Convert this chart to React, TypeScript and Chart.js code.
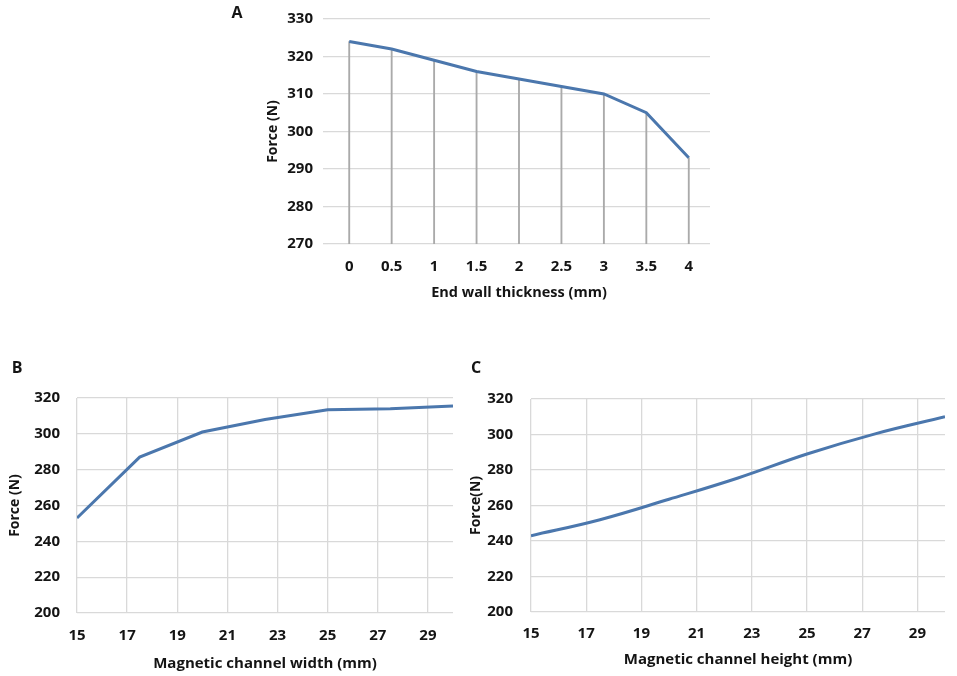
import { useEffect, useRef } from "react";
import { Chart, registerables } from "chart.js";

Chart.register(...registerables);

// Panel A – end wall thickness
const thicknessLabels = ["0", "0.5", "1", "1.5", "2", "2.5", "3", "3.5", "4"];
const forceByThickness = [324, 322, 319, 316, 314, 312, 310, 305, 293];

// Panel B – magnetic channel width
const channelWidths = [15, 17.5, 20, 22.5, 25, 27.5, 30];
const forceByWidth = [253, 287, 301, 308, 313.5, 314, 315.5];

// Panel C – magnetic channel height
const channelHeights = [15, 17.5, 20, 22.5, 25, 27.5, 30];
const forceByHeight = [243, 252, 263.5, 275.5, 289, 300.5, 310];

const channelTicks = [15, 17, 19, 21, 23, 25, 27, 29];

const FONT = "'Open Sans'";
const TEXT = "#141414";
const LINE = "#4b77ad";
const GRID = "#d9d9d9";

const tickFont = { family: FONT, size: 15, weight: "bold" as const };
const yTitleFont = { family: FONT, size: 14, weight: "bold" as const };
const xTitleFontA = { family: FONT, size: 14.5, weight: "bold" as const };
const xTitleFont = { family: FONT, size: 15, weight: "bold" as const };

type Box = { left: number; top: number; width: number; height: number };

function ChartBox({ box, build }: { box: Box; build: (c: HTMLCanvasElement) => Chart }) {
	const canvasRef = useRef<HTMLCanvasElement>(null);
	const chartRef = useRef<Chart | null>(null);

	useEffect(() => {
		if (canvasRef.current) {
			if (chartRef.current) chartRef.current.destroy();
			chartRef.current = build(canvasRef.current);
		}
		return () => {
			chartRef.current?.destroy();
			chartRef.current = null;
		};
	}, [build]);

	return (
		<div style={{ position: "absolute", ...box }}>
			<canvas ref={canvasRef} />
		</div>
	);
}

const buildA = (canvas: HTMLCanvasElement) =>
	new Chart(canvas, {
		type: "line",
		data: {
			labels: thicknessLabels,
			datasets: [
				{
					type: "line",
					data: forceByThickness,
					borderColor: LINE,
					borderWidth: 3,
					pointRadius: 0,
					tension: 0,
					order: 0,
				},
				{
					// Excel-style drop lines from each point to the axis
					type: "bar",
					data: forceByThickness,
					backgroundColor: "#aaaaaa",
					barThickness: 1.2,
					order: 1,
				} as any,
			],
		},
		options: {
			animation: false,
			responsive: true,
			maintainAspectRatio: false,
			layout: { padding: { top: 11, right: 10, left: 0, bottom: 0 } },
			plugins: { legend: { display: false }, tooltip: { enabled: false } },
			scales: {
				x: {
					type: "category",
					offset: true,
					grid: { display: false, drawTicks: false },
					border: { display: false },
					ticks: { font: tickFont, color: TEXT, padding: 14, maxRotation: 0 },
					title: {
						display: true,
						text: "End wall thickness (mm)",
						font: xTitleFontA,
						color: TEXT,
						padding: { top: 0, bottom: 3 },
					},
					afterFit: (s: any) => {
						s.height = 61;
					},
				},
				y: {
					min: 270,
					max: 330,
					ticks: { stepSize: 10, font: tickFont, color: TEXT, padding: 10 },
					grid: { color: GRID, lineWidth: 1.3, drawTicks: true, tickLength: 5 },
					border: { display: false },
					title: {
						display: true,
						text: "Force (N)",
						font: yTitleFont,
						color: TEXT,
						padding: { top: 34.6, bottom: 0 },
					},
					afterFit: (s: any) => {
						s.width = 98;
					},
				},
			},
		},
	});

const makeChannelChart = (
	xs: number[],
	ys: number[],
	xTitle: string,
	yTitle: string,
	tension: number,
	m: { padTop: number; padRight: number; yWidth: number; xHeight: number; yTitlePad: number; yTickPad: number; xTickPad: number; xTitlePad: number },
) => (canvas: HTMLCanvasElement) =>
	new Chart(canvas, {
		type: "line",
		data: {
			datasets: [
				{
					data: xs.map((x, i) => ({ x, y: ys[i] })),
					borderColor: LINE,
					borderWidth: 3,
					pointRadius: 0,
					tension,
				},
			],
		},
		options: {
			animation: false,
			responsive: true,
			maintainAspectRatio: false,
			layout: { padding: { top: m.padTop, right: m.padRight, left: 0, bottom: 0 } },
			plugins: { legend: { display: false }, tooltip: { enabled: false } },
			scales: {
				x: {
					type: "linear",
					min: 15,
					max: 30,
					afterBuildTicks: (axis: any) => {
						axis.ticks = channelTicks.map((v) => ({ value: v }));
					},
					ticks: { font: tickFont, color: TEXT, padding: m.xTickPad, maxRotation: 0, autoSkip: false },
					grid: { color: GRID, lineWidth: 1.3, drawTicks: false },
					border: { display: false },
					title: {
						display: true,
						text: xTitle,
						font: xTitleFont,
						color: TEXT,
						padding: { top: 0, bottom: m.xTitlePad },
					},
					afterFit: (s: any) => {
						s.height = m.xHeight;
					},
				},
				y: {
					min: 200,
					max: 320,
					ticks: { stepSize: 20, font: tickFont, color: TEXT, padding: m.yTickPad },
					grid: { color: GRID, lineWidth: 1.3, drawTicks: false },
					border: { display: false },
					title: {
						display: true,
						text: yTitle,
						font: yTitleFont,
						color: TEXT,
						padding: { top: m.yTitlePad, bottom: 0 },
					},
					afterFit: (s: any) => {
						s.width = m.yWidth;
					},
				},
			},
		},
	});

const buildB = makeChannelChart(channelWidths, forceByWidth, "Magnetic channel width (mm)", "Force (N)", 0, {
	padTop: 15,
	padRight: 12,
	yWidth: 77,
	xHeight: 63,
	yTitlePad: 6.6,
	yTickPad: 17,
	xTickPad: 13.5,
	xTitlePad: 3,
});

const buildC = makeChannelChart(channelHeights, forceByHeight, "Magnetic channel height (mm)", "Force(N)", 0.4, {
	padTop: 18,
	padRight: 12,
	yWidth: 69,
	xHeight: 64,
	yTitlePad: 5.6,
	yTickPad: 18,
	xTickPad: 13,
	xTitlePad: 7,
});

const letterStyle = (left: number, top: number): React.CSSProperties => ({
	position: "absolute",
	left,
	top,
	transform: "translate(-50%, -50%)",
	fontFamily: FONT,
	fontWeight: 700,
	fontSize: 16,
	color: TEXT,
	lineHeight: 1,
});

export default function App() {
	return (
		<div style={{ position: "absolute", left: 0, top: 0, width: 957, height: 676, background: "#fff", overflow: "hidden" }}>
			<ChartBox box={{ left: 230, top: 0, width: 490, height: 305 }} build={buildA} />
			<ChartBox box={{ left: 0, top: 372, width: 465, height: 304 }} build={buildB} />
			<ChartBox box={{ left: 462, top: 372, width: 495, height: 304 }} build={buildC} />
			<div style={letterStyle(237, 12)}>A</div>
			<div style={letterStyle(17, 367)}>B</div>
			<div style={letterStyle(476, 367)}>C</div>
		</div>
	);
}
